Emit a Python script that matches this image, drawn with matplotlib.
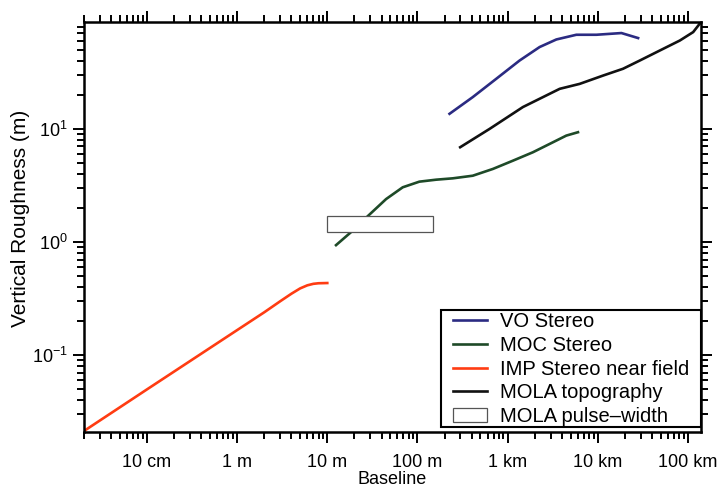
"""
Vertical roughness vs baseline, log-log, several Mars datasets.
"""

import matplotlib
matplotlib.use("Agg")
import matplotlib.pyplot as plt
from matplotlib.patches import Rectangle
from matplotlib.ticker import FixedLocator, FixedFormatter, LogLocator, NullFormatter

plt.rcParams["font.family"] = ["Liberation Sans", "DejaVu Sans"]
plt.rcParams["mathtext.default"] = "regular"

# baseline (m) and roughness (m) per dataset
vo_x = [227, 411, 748, 1359, 2268, 3479, 5794, 9680, 18340, 28050]
vo_y = [13.6, 19.1, 27.7, 40.2, 52.9, 61.7, 67.9, 67.9, 70.3, 63.5]

moc_x = [12.5, 19.1, 28.0, 44.9, 68.7, 105, 161, 247, 411, 687, 1146, 1910, 3186, 4484, 6040]
moc_y = [0.94, 1.26, 1.69, 2.40, 3.05, 3.42, 3.56, 3.66, 3.86, 4.43, 5.24, 6.22, 7.62, 8.73, 9.35]

imp_x = [0.021, 0.1, 1, 2, 3, 4, 5, 6, 7, 8, 10]
imp_y = [0.022, 0.05, 0.167, 0.24, 0.30, 0.35, 0.39, 0.415, 0.428, 0.433, 0.435]

mola_x = [298, 631, 1479, 3784, 6310, 11460, 19100, 29300, 48900, 81500, 114600, 140000]
mola_y = [6.89, 10.0, 15.6, 22.6, 25.0, 29.6, 34.0, 40.2, 49.3, 60.4, 71.7, 88]

# MOLA pulse-width box: baseline range and roughness range
pulse_x = [10, 150]
pulse_y = [1.23, 1.69]

x_ticks = [0.1, 1, 10, 100, 1e3, 1e4, 1e5]
x_labels = ["10 cm", "1 m", "10 m", "100 m", "1 km", "10 km", "100 km"]

fig = plt.figure(figsize=(7.21, 4.87), dpi=100)
ax = fig.add_axes([0.1165, 0.1129, 0.8558, 0.8419])

ax.plot(vo_x, vo_y, color="#2b2b82", lw=1.9, label="VO Stereo")
ax.plot(moc_x, moc_y, color="#1e4a28", lw=1.9, label="MOC Stereo")
ax.plot(imp_x, imp_y, color="#ff3c12", lw=1.9, label="IMP Stereo near field")
ax.plot(mola_x, mola_y, color="#111111", lw=1.9, label="MOLA topography")

box = Rectangle((pulse_x[0], pulse_y[0]), pulse_x[1] - pulse_x[0], pulse_y[1] - pulse_y[0],
                facecolor="white", edgecolor="#555555", lw=0.9, zorder=5,
                label="MOLA pulse\u2013width")
ax.add_patch(box)

ax.set_xscale("log")
ax.set_yscale("log")
ax.set_xlim(0.02, 1.4e5)
ax.set_ylim(0.021, 88)

ax.xaxis.set_major_locator(FixedLocator(x_ticks))
ax.xaxis.set_major_formatter(FixedFormatter(x_labels))
ax.xaxis.set_minor_locator(LogLocator(base=10, subs=range(2, 10), numticks=20))
ax.xaxis.set_minor_formatter(NullFormatter())
ax.yaxis.set_major_locator(FixedLocator([0.1, 1, 10]))
ax.yaxis.set_major_formatter(matplotlib.ticker.LogFormatterSciNotation())
ax.yaxis.set_minor_locator(LogLocator(base=10, subs=range(2, 10), numticks=20))
ax.yaxis.set_minor_formatter(NullFormatter())

for side in ax.spines.values():
    side.set_linewidth(1.8)
ax.tick_params(which="both", direction="out", top=True, right=True, labelsize=13,
               width=1.4, color="black")
ax.tick_params(which="major", length=8)
ax.tick_params(which="minor", length=5)
ax.tick_params(axis="x", pad=8)

ax.set_xlabel("Baseline", fontsize=13, labelpad=0)
ax.set_ylabel("Vertical Roughness (m)", fontsize=15)
ax.yaxis.set_label_coords(-0.088, 0.52)

# legend frame drawn by hand so its padding matches the original
frame = Rectangle((0.579, 0.012), 0.421, 0.286, transform=ax.transAxes,
                  facecolor="white", edgecolor="black", lw=1.5, zorder=6, clip_on=False)
ax.add_patch(frame)
leg = ax.legend(loc="upper left", bbox_to_anchor=(0.598, 0.293), borderaxespad=0,
                borderpad=0, fontsize=14.5, frameon=False,
                handlelength=1.7, handletextpad=0.65, labelspacing=0.24)
leg.set_zorder(7)

fig.savefig("out.png", dpi=100)
